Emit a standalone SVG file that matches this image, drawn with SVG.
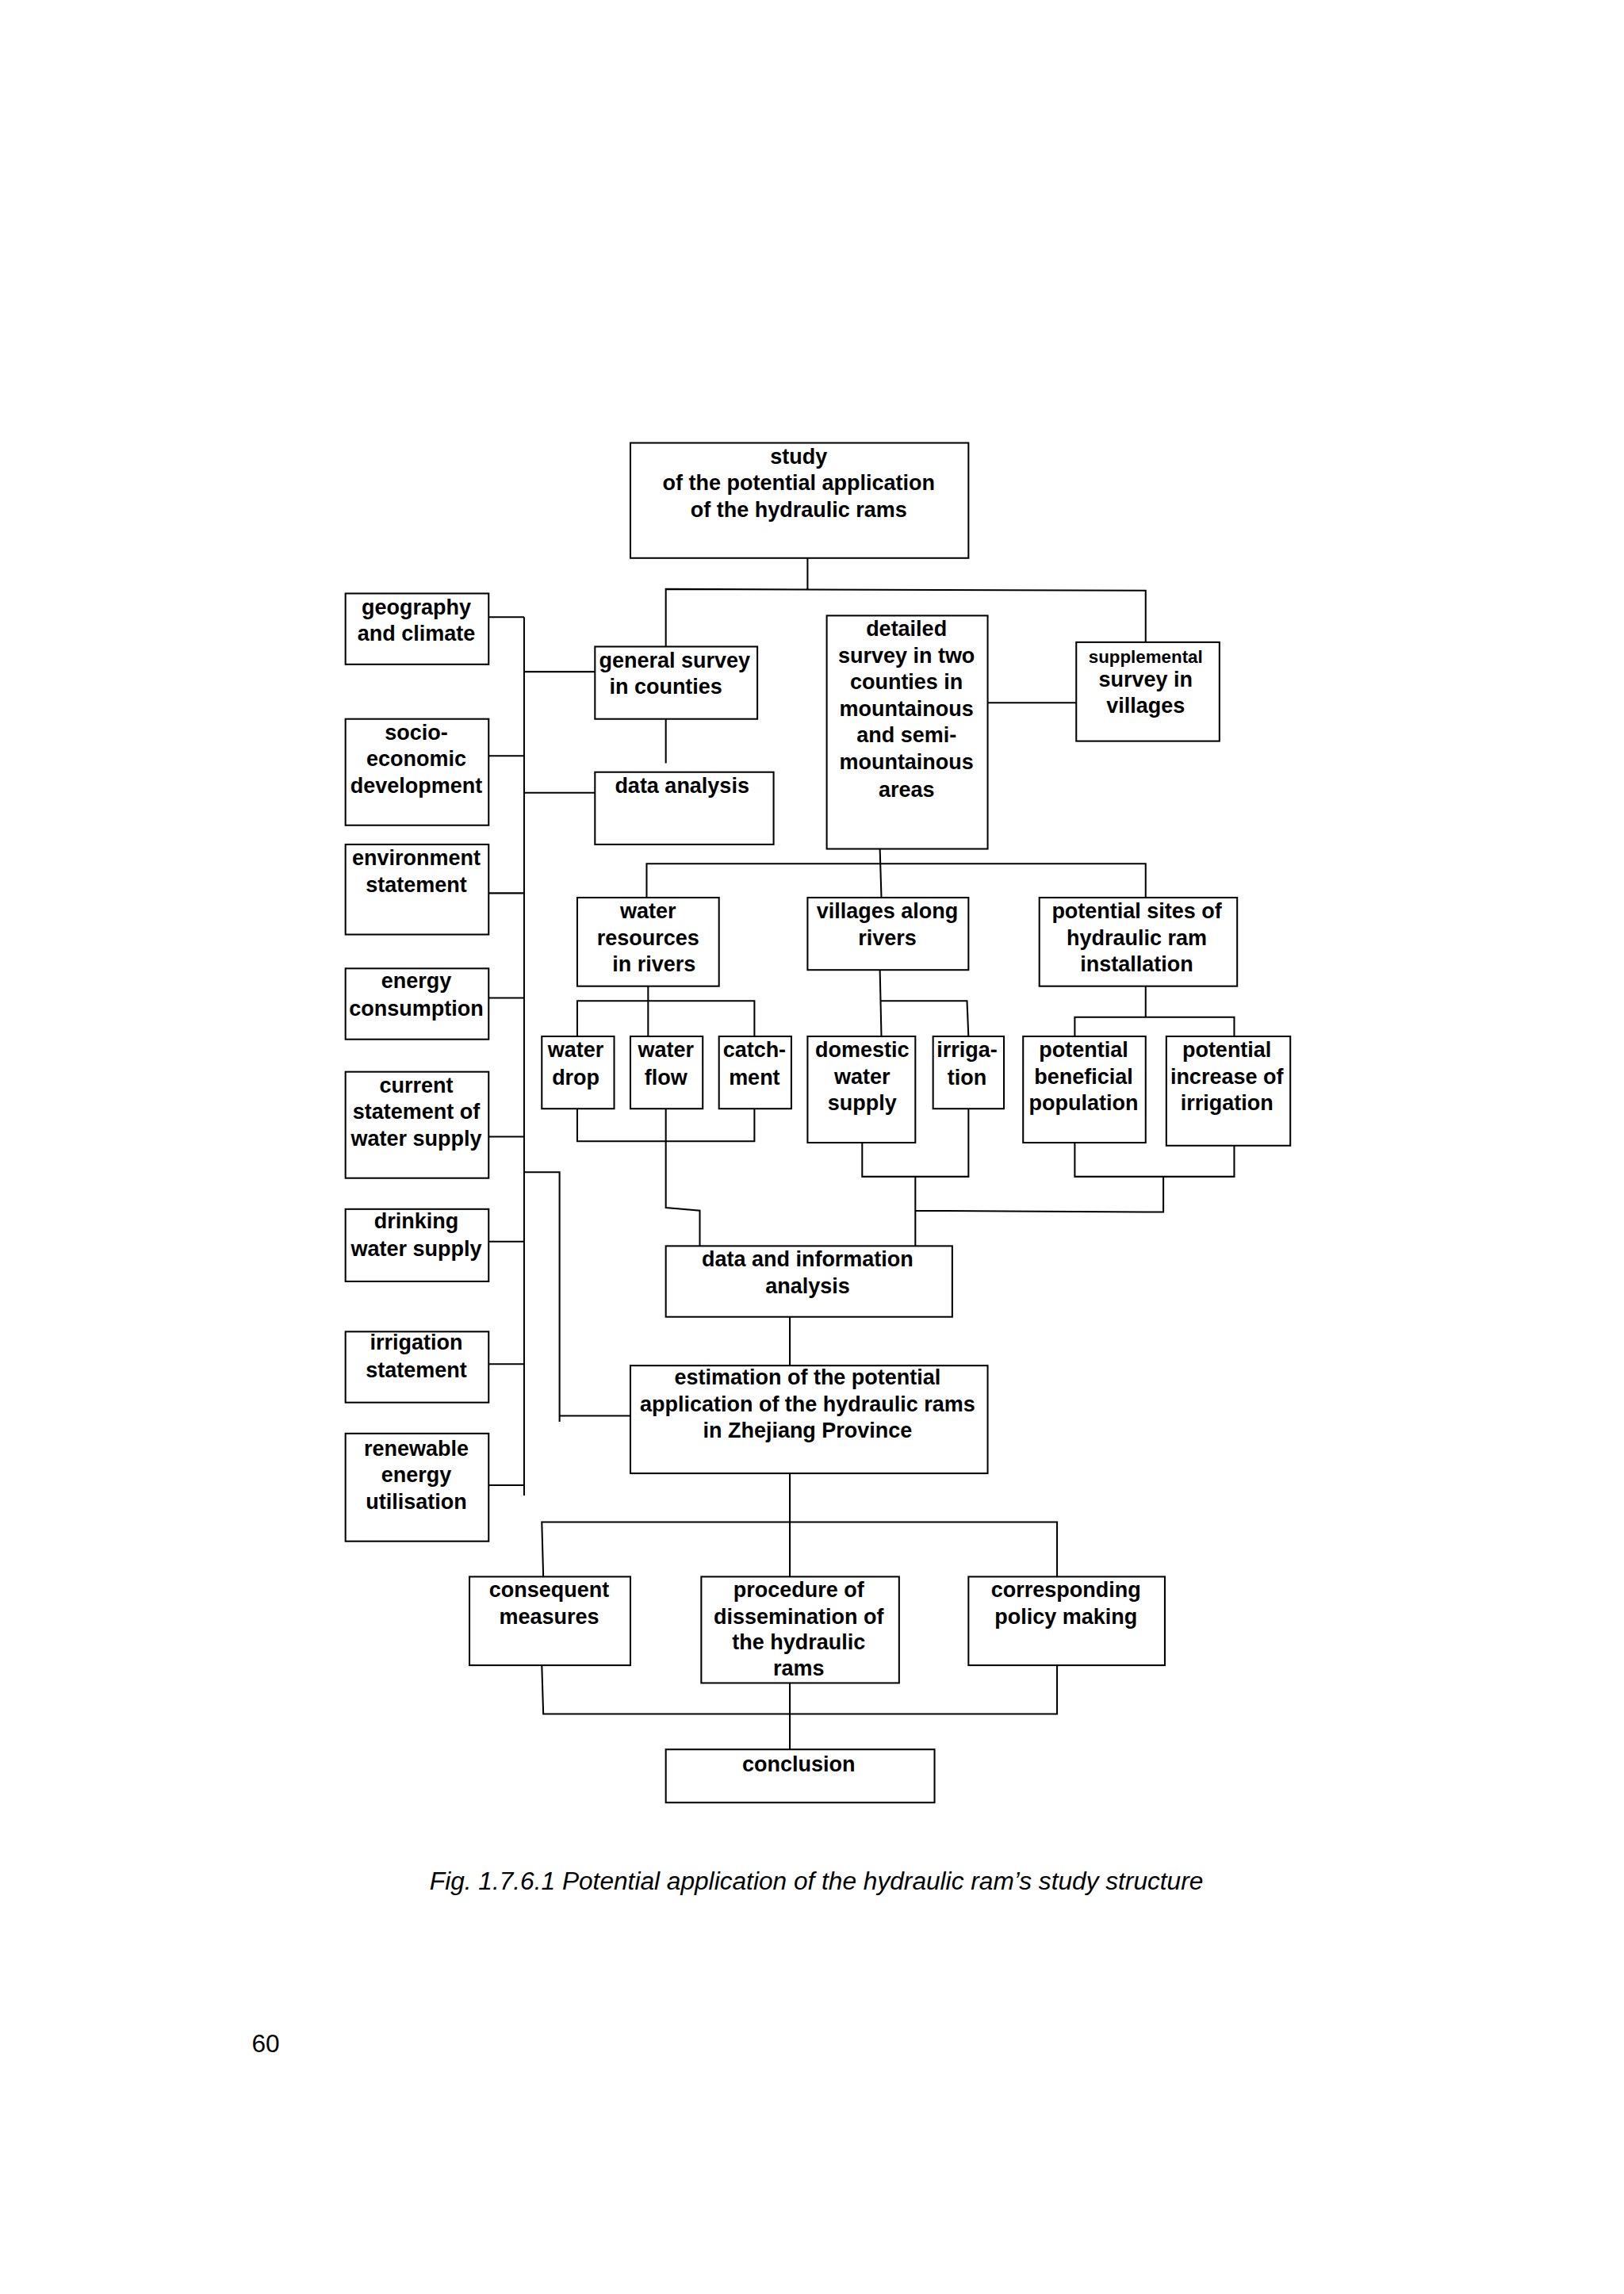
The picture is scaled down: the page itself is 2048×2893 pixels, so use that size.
<svg xmlns="http://www.w3.org/2000/svg" width="2048" height="2893" viewBox="0 0 2048 2893">
<style>
rect{fill:none;stroke:#000;stroke-width:1.1}
.c path{fill:none;stroke:#000;stroke-width:1.1}
text{font-family:"Liberation Sans",Arial,sans-serif;font-weight:bold;font-size:14.5px;text-anchor:middle;fill:#000}
.cap{font-weight:normal;font-style:italic;font-size:17px}
.pg{font-weight:normal;font-size:17px}
</style>
<rect x="0" y="0" width="2048" height="2893" style="fill:#fff;stroke:none"/>
<g transform="scale(1.8618)">
<g class="c" id="connectors">
<path d="M547 378V400M451 438V399L776 400V435"/>
<path d="M331 418H355M331 512H355M331 605H355M331 676H355M331 770H355M331 841H355M331 924H355M331 1006H355M355 418V1013"/>
<path d="M355 455H403M355 537H403M451 487V517"/>
<path d="M355 794H379V963M379 959H427"/>
<path d="M669 476H729"/>
<path d="M596 575L597 608M438 608V585H776V608"/>
<path d="M439 668V702M391 702V678H511V702M391 751V773H511V751"/>
<path d="M451 751V818L474 820V844"/>
<path d="M596 657L597 702M596 678H655L656 702M584 774V797H656L656 751M620 797V844M620 820L776 821H788V797"/>
<path d="M776 668V689M728 702V689H836V702M728 774V797H836V776"/>
<path d="M535 892V925M535 998V1068M368 1068L367 1031H716V1068"/>
<path d="M367 1128L368 1161H716V1128M535 1140V1185"/>
</g>
<g id="n-top"><rect x="427" y="300" width="229" height="78"/><text x="541" y="314">study</text><text x="541" y="332">of the potential application</text><text x="541" y="350">of the hydraulic rams</text></g>
<g id="n-geo"><rect x="234" y="402" width="97" height="48"/><text x="282" y="416">geography</text><text x="282" y="434">and climate</text></g>
<g id="n-general"><rect x="403" y="438" width="110" height="49"/><text x="457" y="452">general survey</text><text x="451" y="470">in counties</text></g>
<g id="n-detailed"><rect x="560" y="417" width="109" height="158"/><text x="614" y="431">detailed</text><text x="614" y="449">survey in two</text><text x="614" y="467">counties in</text><text x="614" y="485">mountainous</text><text x="614" y="503">and semi-</text><text x="614" y="521">mountainous</text><text x="614" y="540">areas</text></g>
<g id="n-supp"><rect x="729" y="435" width="97" height="67"/><text x="776" y="449" style="font-size:12px">supplemental</text><text x="776" y="465">survey in</text><text x="776" y="483">villages</text></g>
<g id="n-da"><rect x="403" y="523" width="121" height="49"/><text x="462" y="537">data analysis</text></g>
<g id="n-socio"><rect x="234" y="487" width="97" height="72"/><text x="282" y="501">socio-</text><text x="282" y="519">economic</text><text x="282" y="537">development</text></g>
<g id="n-env"><rect x="234" y="572" width="97" height="61"/><text x="282" y="586">environment</text><text x="282" y="604">statement</text></g>
<g id="n-energy"><rect x="234" y="656" width="97" height="48"/><text x="282" y="669">energy</text><text x="282" y="688">consumption</text></g>
<g id="n-current"><rect x="234" y="726" width="97" height="72"/><text x="282" y="740">current</text><text x="282" y="758">statement of</text><text x="282" y="776">water supply</text></g>
<g id="n-drink"><rect x="234" y="819" width="97" height="49"/><text x="282" y="832">drinking</text><text x="282" y="851">water supply</text></g>
<g id="n-irrst"><rect x="234" y="902" width="97" height="48"/><text x="282" y="914">irrigation</text><text x="282" y="933">statement</text></g>
<g id="n-renew"><rect x="234" y="971" width="97" height="73"/><text x="282" y="986">renewable</text><text x="282" y="1004">energy</text><text x="282" y="1022">utilisation</text></g>
<g id="n-wres"><rect x="391" y="608" width="96" height="60"/><text x="439" y="622">water</text><text x="439" y="640">resources</text><text x="443" y="658">in rivers</text></g>
<g id="n-vill"><rect x="547" y="608" width="109" height="49"/><text x="601" y="622">villages along</text><text x="601" y="640">rivers</text></g>
<g id="n-sites"><rect x="704" y="608" width="134" height="60"/><text x="770" y="622">potential sites of</text><text x="770" y="640">hydraulic ram</text><text x="770" y="658">installation</text></g>
<g id="n-wdrop"><rect x="367" y="702" width="49" height="49"/><text x="390" y="716">water</text><text x="390" y="735">drop</text></g>
<g id="n-wflow"><rect x="427" y="702" width="49" height="49"/><text x="451" y="716">water</text><text x="451" y="735">flow</text></g>
<g id="n-catch"><rect x="487" y="702" width="49" height="49"/><text x="511" y="716">catch-</text><text x="511" y="735">ment</text></g>
<g id="n-dom"><rect x="547" y="702" width="73" height="72"/><text x="584" y="716">domestic</text><text x="584" y="734">water</text><text x="584" y="752">supply</text></g>
<g id="n-irr"><rect x="632" y="702" width="48" height="49"/><text x="655" y="716">irriga-</text><text x="655" y="735">tion</text></g>
<g id="n-pben"><rect x="693" y="702" width="83" height="72"/><text x="734" y="716">potential</text><text x="734" y="734">beneficial</text><text x="734" y="752">population</text></g>
<g id="n-pinc"><rect x="790" y="702" width="84" height="74"/><text x="831" y="716">potential</text><text x="831" y="734">increase of</text><text x="831" y="752">irrigation</text></g>
<g id="n-dia"><rect x="451" y="844" width="194" height="48"/><text x="547" y="858">data and information</text><text x="547" y="876">analysis</text></g>
<g id="n-est"><rect x="427" y="925" width="242" height="73"/><text x="547" y="938">estimation of the potential</text><text x="547" y="956">application of the hydraulic rams</text><text x="547" y="974">in Zhejiang Province</text></g>
<g id="n-cons"><rect x="318" y="1068" width="109" height="60"/><text x="372" y="1082">consequent</text><text x="372" y="1100">measures</text></g>
<g id="n-proc"><rect x="475" y="1068" width="134" height="72"/><text x="541" y="1082">procedure of</text><text x="541" y="1100">dissemination of</text><text x="541" y="1117">the hydraulic</text><text x="541" y="1135">rams</text></g>
<g id="n-corr"><rect x="656" y="1068" width="133" height="60"/><text x="722" y="1082">corresponding</text><text x="722" y="1100">policy making</text></g>
<g id="n-concl"><rect x="451" y="1185" width="182" height="36"/><text x="541" y="1200">conclusion</text></g>
<text class="cap" x="553" y="1280">Fig. 1.7.6.1   Potential application of the hydraulic ram’s study structure</text>
<text class="pg" x="180" y="1390">60</text>
</g>
</svg>
